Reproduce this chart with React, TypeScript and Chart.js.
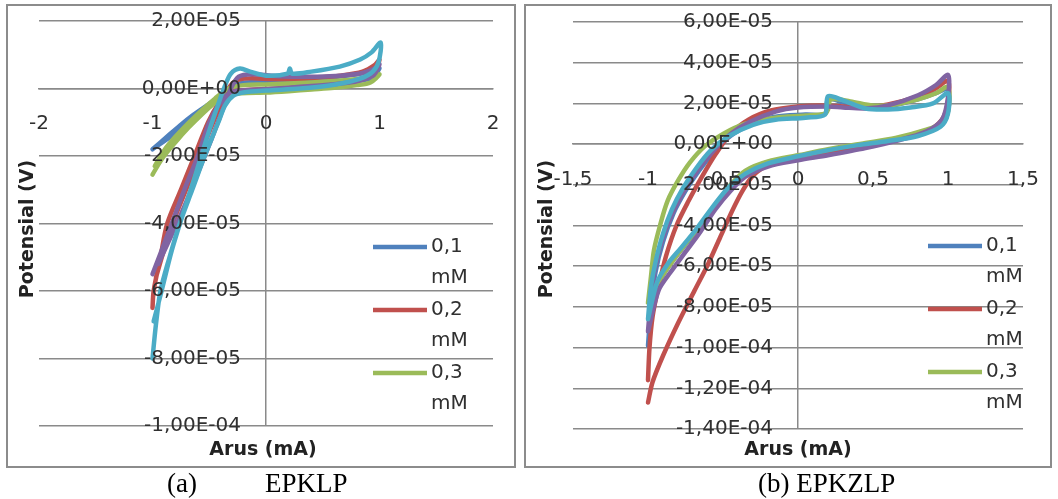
import React, { useEffect, useRef } from 'react';
import { Chart, registerables } from 'chart.js';

Chart.register(...registerables);

// ---------- shared ----------
const SERIES_LABELS = ['0,1 mM', '0,2 mM', '0,3 mM', '0,4 mM', '0,5 mM'];
const SERIES_COLORS = ['#4F81BD', '#C0504D', '#9BBB59', '#8064A2', '#4BACC6'];
const LEGEND_COUNT = 3;

// ---------- panel (a) EPKLP ----------
const A_X_TICKS = [-2, -1, 0, 1, 2];
const A_Y_TICKS = [2e-5, 0, -2e-5, -4e-5, -6e-5, -8e-5, -1e-4];

const A1_X = [-1.0, -0.88, -0.76, -0.64, -0.52, -0.42, -0.32, -0.18, 0.0, 0.2, 0.4, 0.6, 0.8, 0.93, 1.0, 0.95, 0.8, 0.6, 0.4, 0.2, 0.0, -0.18, -0.3, -0.4, -0.55, -0.7, -0.85, -0.98];
const A1_Y = [-1.8e-5, -1.45e-5, -1.1e-5, -0.78e-5, -0.5e-5, -0.28e-5, -0.12e-5, -0.06e-5, -0.04e-5, 0.0, 0.05e-5, 0.12e-5, 0.22e-5, 0.32e-5, 0.6e-5, 0.52e-5, 0.42e-5, 0.34e-5, 0.28e-5, 0.24e-5, 0.2e-5, 0.18e-5, 0.08e-5, -0.2e-5, -0.65e-5, -1.05e-5, -1.45e-5, -1.75e-5];

const A2_X = [-1.0, -0.99, -0.93, -0.87, -0.75, -0.63, -0.51, -0.42, -0.34, -0.25, -0.1, 0.1, 0.3, 0.5, 0.7, 0.85, 0.95, 1.0, 0.96, 0.85, 0.65, 0.45, 0.25, 0.05, -0.15, -0.27, -0.35, -0.44, -0.55, -0.68, -0.8, -0.9, -0.97];
const A2_Y = [-6.5e-5, -6.0e-5, -5.0e-5, -4.0e-5, -3.0e-5, -2.0e-5, -1.0e-5, -0.45e-5, -0.15e-5, -0.06e-5, -0.03e-5, 0.0, 0.05e-5, 0.1e-5, 0.18e-5, 0.3e-5, 0.45e-5, 0.85e-5, 0.7e-5, 0.5e-5, 0.38e-5, 0.32e-5, 0.28e-5, 0.28e-5, 0.3e-5, 0.22e-5, -0.1e-5, -0.8e-5, -1.7e-5, -2.8e-5, -3.8e-5, -4.8e-5, -5.6e-5];

const A3_X = [-1.0, -0.92, -0.8, -0.68, -0.56, -0.45, -0.36, -0.22, 0.0, 0.2, 0.4, 0.6, 0.8, 0.92, 1.0, 0.95, 0.8, 0.6, 0.4, 0.2, 0.0, -0.2, -0.33, -0.45, -0.6, -0.75, -0.88, -0.98];
const A3_Y = [-2.55e-5, -2.1e-5, -1.6e-5, -1.15e-5, -0.75e-5, -0.42e-5, -0.22e-5, -0.14e-5, -0.12e-5, -0.08e-5, -0.03e-5, 0.02e-5, 0.1e-5, 0.18e-5, 0.42e-5, 0.36e-5, 0.28e-5, 0.22e-5, 0.18e-5, 0.15e-5, 0.12e-5, 0.1e-5, 0.0, -0.3e-5, -0.75e-5, -1.25e-5, -1.75e-5, -2.3e-5];

const A4_X = [-1.0, -0.92, -0.83, -0.72, -0.6, -0.5, -0.41, -0.33, -0.25, -0.1, 0.1, 0.3, 0.5, 0.7, 0.85, 0.95, 1.0, 0.96, 0.85, 0.65, 0.45, 0.25, 0.05, -0.12, -0.24, -0.31, -0.39, -0.48, -0.6, -0.72, -0.84, -0.95];
const A4_Y = [-5.5e-5, -4.8e-5, -4.0e-5, -3.0e-5, -2.0e-5, -1.0e-5, -0.45e-5, -0.15e-5, -0.07e-5, -0.04e-5, 0.0, 0.05e-5, 0.1e-5, 0.16e-5, 0.26e-5, 0.4e-5, 0.72e-5, 0.6e-5, 0.46e-5, 0.38e-5, 0.35e-5, 0.35e-5, 0.38e-5, 0.42e-5, 0.35e-5, 0.0, -0.7e-5, -1.5e-5, -2.5e-5, -3.5e-5, -4.4e-5, -5.2e-5];

const A5_X = [-1.0, -0.97, -0.93, -0.85, -0.76, -0.65, -0.54, -0.42, -0.36, -0.29, -0.2, 0.0, 0.3, 0.56, 0.78, 0.92, 0.99, 1.01, 0.93, 0.83, 0.65, 0.4, 0.23, 0.21, 0.19, 0.0, -0.14, -0.23, -0.31, -0.36, -0.41, -0.5, -0.61, -0.72, -0.83, -0.92, -0.99];
const A5_Y = [-8.0e-5, -7.0e-5, -6.0e-5, -5.0e-5, -4.0e-5, -3.0e-5, -2.0e-5, -1.0e-5, -0.5e-5, -0.22e-5, -0.12e-5, -0.06e-5, 0.0, 0.09e-5, 0.24e-5, 0.44e-5, 0.77e-5, 1.36e-5, 1.07e-5, 0.86e-5, 0.65e-5, 0.5e-5, 0.44e-5, 0.59e-5, 0.44e-5, 0.38e-5, 0.5e-5, 0.59e-5, 0.44e-5, 0.09e-5, -0.36e-5, -1.24e-5, -2.43e-5, -3.6e-5, -4.8e-5, -6.0e-5, -6.9e-5];

// ---------- panel (b) EPKZLP ----------
const B_X_TICKS = [-1.5, -1, -0.5, 0, 0.5, 1, 1.5];
const B_Y_TICKS = [6e-5, 4e-5, 2e-5, 0, -2e-5, -4e-5, -6e-5, -8e-5, -1e-4, -1.2e-4, -1.4e-4];

const B1_X = [-1.0, -0.98, -0.95, -0.9, -0.83, -0.75, -0.66, -0.56, -0.45, -0.3, -0.15, 0.05, 0.18, 0.2, 0.3, 0.45, 0.6, 0.8, 0.92, 1.0, 1.0, 0.95, 0.8, 0.6, 0.4, 0.2, 0.0, -0.2, -0.35, -0.46, -0.57, -0.68, -0.79, -0.88, -0.95, -1.0];
const B1_Y = [-9.9e-5, -8.0e-5, -6.3e-5, -4.8e-5, -3.4e-5, -2.3e-5, -1.3e-5, -0.4e-5, 0.4e-5, 1.0e-5, 1.35e-5, 1.45e-5, 1.5e-5, 2.2e-5, 2.05e-5, 1.8e-5, 1.85e-5, 2.2e-5, 2.5e-5, 2.7e-5, 1.6e-5, 0.9e-5, 0.45e-5, 0.15e-5, -0.05e-5, -0.3e-5, -0.6e-5, -0.95e-5, -1.5e-5, -2.2e-5, -3.2e-5, -4.3e-5, -5.3e-5, -6.2e-5, -7.2e-5, -9.9e-5];

const B2_X = [-1.0, -0.99, -0.97, -0.93, -0.88, -0.81, -0.73, -0.64, -0.55, -0.45, -0.33, -0.18, 0.0, 0.15, 0.3, 0.45, 0.6, 0.8, 0.92, 1.0, 1.0, 0.96, 0.85, 0.65, 0.45, 0.2, 0.0, -0.2, -0.3, -0.37, -0.44, -0.52, -0.6, -0.69, -0.8, -0.9, -0.97, -1.0];
const B2_Y = [-11.6e-5, -10.0e-5, -8.5e-5, -7.0e-5, -5.5e-5, -4.0e-5, -2.8e-5, -1.6e-5, -0.5e-5, 0.5e-5, 1.2e-5, 1.65e-5, 1.85e-5, 1.9e-5, 1.85e-5, 1.8e-5, 1.95e-5, 2.35e-5, 2.75e-5, 3.1e-5, 2.1e-5, 1.2e-5, 0.6e-5, 0.2e-5, -0.1e-5, -0.45e-5, -0.7e-5, -1.05e-5, -1.55e-5, -2.3e-5, -3.3e-5, -4.6e-5, -5.9e-5, -7.2e-5, -8.8e-5, -10.4e-5, -11.7e-5, -12.7e-5];

const B3_X = [-1.0, -0.98, -0.96, -0.92, -0.87, -0.8, -0.72, -0.62, -0.5, -0.35, -0.15, 0.05, 0.18, 0.2, 0.22, 0.35, 0.5, 0.65, 0.8, 0.92, 1.0, 1.0, 0.95, 0.85, 0.65, 0.45, 0.2, 0.0, -0.2, -0.35, -0.45, -0.55, -0.65, -0.76, -0.86, -0.95, -1.0];
const B3_Y = [-7.8e-5, -6.5e-5, -5.2e-5, -4.0e-5, -2.8e-5, -1.8e-5, -0.9e-5, -0.1e-5, 0.5e-5, 1.0e-5, 1.3e-5, 1.4e-5, 1.5e-5, 1.7e-5, 2.2e-5, 2.1e-5, 1.9e-5, 1.95e-5, 2.2e-5, 2.5e-5, 2.8e-5, 1.6e-5, 1.0e-5, 0.7e-5, 0.3e-5, 0.05e-5, -0.25e-5, -0.55e-5, -0.85e-5, -1.3e-5, -2.0e-5, -3.0e-5, -4.0e-5, -5.0e-5, -6.0e-5, -7.0e-5, -7.8e-5];

const B4_X = [-1.0, -0.98, -0.95, -0.9, -0.83, -0.75, -0.66, -0.56, -0.45, -0.32, -0.15, 0.0, 0.2, 0.3, 0.45, 0.6, 0.8, 0.92, 1.0, 1.0, 0.96, 0.85, 0.65, 0.45, 0.2, 0.0, -0.2, -0.35, -0.45, -0.55, -0.65, -0.75, -0.85, -0.93, -1.0];
const B4_Y = [-9.2e-5, -7.5e-5, -6.0e-5, -4.6e-5, -3.3e-5, -2.2e-5, -1.2e-5, -0.3e-5, 0.5e-5, 1.1e-5, 1.6e-5, 1.8e-5, 1.85e-5, 1.8e-5, 1.75e-5, 1.9e-5, 2.4e-5, 2.9e-5, 3.4e-5, 2.3e-5, 1.2e-5, 0.6e-5, 0.15e-5, -0.2e-5, -0.55e-5, -0.8e-5, -1.1e-5, -1.6e-5, -2.3e-5, -3.2e-5, -4.3e-5, -5.3e-5, -6.3e-5, -7.2e-5, -9.2e-5];

const B5_X = [-1.0, -0.98, -0.95, -0.9, -0.84, -0.77, -0.68, -0.58, -0.46, -0.3, -0.15, 0.05, 0.18, 0.2, 0.3, 0.45, 0.6, 0.75, 0.9, 1.0, 1.0, 0.95, 0.8, 0.6, 0.4, 0.2, 0.0, -0.2, -0.35, -0.46, -0.56, -0.67, -0.78, -0.87, -0.94, -1.0];
const B5_Y = [-8.6e-5, -7.0e-5, -5.8e-5, -4.4e-5, -3.2e-5, -2.2e-5, -1.2e-5, -0.3e-5, 0.4e-5, 0.95e-5, 1.2e-5, 1.3e-5, 1.45e-5, 2.35e-5, 2.15e-5, 1.75e-5, 1.7e-5, 1.8e-5, 2.0e-5, 2.5e-5, 1.5e-5, 0.85e-5, 0.4e-5, 0.15e-5, -0.05e-5, -0.3e-5, -0.6e-5, -0.95e-5, -1.45e-5, -2.1e-5, -3.0e-5, -4.1e-5, -5.1e-5, -5.9e-5, -6.8e-5, -8.6e-5];

// ---------- styling ----------
const FONT = "'DejaVu Sans', 'Noto Sans', sans-serif";
const TEXT_COLOR = '#303030';
const GRID_COLOR = '#8a8a8a';

function fmtSci(v: number): string {
  if (Math.abs(v) < 1e-15) return '0,00E+00';
  let e = Math.floor(Math.log10(Math.abs(v)) + 1e-9);
  let m = v / Math.pow(10, e);
  if (Math.abs(m) >= 9.995) { m /= 10; e += 1; }
  const es = (e < 0 ? '-' : '+') + String(Math.abs(e)).padStart(2, '0');
  return m.toFixed(2).replace('.', ',') + 'E' + es;
}

type Spec = {
  key: string;
  xs: number[][];
  ys: number[][];
  xTicks: number[];
  yTicks: number[];
  padding: { left: number; right: number; top: number; bottom: number };
  yLabelAnchor: number; // x value where the y tick labels end (labels sit left of the axis)
  legendX: number;
  legendY: number;
  xTitle: [number, number];
  yTitle: [number, number];
};

const SPEC_A: Spec = {
  key: 'a',
  xs: [A1_X, A2_X, A3_X, A4_X, A5_X],
  ys: [A1_Y, A2_Y, A3_Y, A4_Y, A5_Y],
  xTicks: A_X_TICKS,
  yTicks: A_Y_TICKS,
  padding: { left: 39, right: 27, top: 21, bottom: 49 },
  yLabelAnchor: -0.22,
  legendX: 373,
  legendY: 247,
  xTitle: [263, 450],
  yTitle: [28, 229],
};

const SPEC_B: Spec = {
  key: 'b',
  xs: [B1_X, B2_X, B3_X, B4_X, B5_X],
  ys: [B1_Y, B2_Y, B3_Y, B4_Y, B5_Y],
  xTicks: B_X_TICKS,
  yTicks: B_Y_TICKS,
  padding: { left: 53, right: 35, top: 22, bottom: 46 },
  yLabelAnchor: -0.167,
  legendX: 408,
  legendY: 246,
  xTitle: [278, 450],
  yTitle: [27, 229],
};

function decorPlugin(spec: Spec) {
  return {
    id: 'decor_' + spec.key,
    afterDraw(chart: any) {
      const ctx = chart.ctx;
      ctx.save();
      // legend (only the first entries fit, as in the original)
      for (let i = 0; i < LEGEND_COUNT; i++) {
        const y = spec.legendY + i * 63;
        ctx.strokeStyle = SERIES_COLORS[i];
        ctx.lineWidth = 4.5;
        ctx.lineCap = 'butt';
        ctx.beginPath();
        ctx.moveTo(spec.legendX, y);
        ctx.lineTo(spec.legendX + 54, y);
        ctx.stroke();
        const parts = SERIES_LABELS[i].split(' ');
        ctx.fillStyle = TEXT_COLOR;
        ctx.font = `20px ${FONT}`;
        ctx.textAlign = 'left';
        ctx.textBaseline = 'middle';
        ctx.fillText(parts[0], spec.legendX + 58, y);
        ctx.fillText(parts[1], spec.legendX + 58, y + 31);
      }
      // axis titles
      ctx.fillStyle = '#222222';
      ctx.font = `bold 19px ${FONT}`;
      ctx.textAlign = 'center';
      ctx.textBaseline = 'middle';
      ctx.fillText('Arus (mA)', spec.xTitle[0], spec.xTitle[1]);
      ctx.translate(spec.yTitle[0], spec.yTitle[1]);
      ctx.rotate(-Math.PI / 2);
      ctx.fillText('Potensial (V)', 0, 0);
      ctx.restore();
    },
  };
}

// keep the plot area exactly where the layout padding puts it
const noScalePadding = (scale: any) => {
  scale.paddingLeft = 0;
  scale.paddingRight = 0;
  scale.paddingTop = 0;
  scale.paddingBottom = 0;
};

function makeConfig(spec: Spec): any {
  const datasets = spec.xs.map((xs, i) => {
    const ys = spec.ys[i];
    const n = Math.min(xs.length, ys.length);
    const pts = [] as { x: number; y: number }[];
    for (let j = 0; j < n; j++) pts.push({ x: xs[j], y: ys[j] });
    return {
      label: SERIES_LABELS[i],
      data: pts,
      showLine: true,
      borderColor: SERIES_COLORS[i],
      backgroundColor: SERIES_COLORS[i],
      borderWidth: 4.5,
      pointRadius: 0,
      pointHoverRadius: 0,
      tension: 0.3,
      fill: false,
      borderCapStyle: 'round',
      borderJoinStyle: 'round',
      order: spec.xs.length - i,
    };
  });
  const xMin = spec.xTicks[0];
  const xMax = spec.xTicks[spec.xTicks.length - 1];
  const yMax = spec.yTicks[0];
  const yMin = spec.yTicks[spec.yTicks.length - 1];
  return {
    type: 'scatter',
    data: { datasets },
    options: {
      animation: false,
      responsive: false,
      maintainAspectRatio: false,
      devicePixelRatio: 1,
      events: [],
      layout: { padding: spec.padding },
      plugins: {
        legend: { display: false },
        tooltip: { enabled: false },
        title: { display: false },
      },
      scales: {
        x: {
          type: 'linear',
          min: xMin,
          max: xMax,
          position: { y: 0 },
          afterBuildTicks: (scale: any) => {
            scale.ticks = spec.xTicks.map((v) => ({ value: v }));
          },
          afterFit: noScalePadding,
          ticks: {
            autoSkip: false,
            maxRotation: 0,
            padding: 23.5,
            color: TEXT_COLOR,
            font: { family: FONT, size: 20 },
            z: 1,
            callback: (v: any) => String(v).replace('.', ','),
          },
          // only the zero line is drawn: it is the vertical axis line
          grid: {
            display: true,
            drawTicks: false,
            lineWidth: 1.5,
            color: (c: any) => (c.tick && c.tick.value === 0 ? GRID_COLOR : 'rgba(0,0,0,0)'),
          },
          border: { display: true, color: GRID_COLOR, width: 1.5 },
        },
        y: {
          type: 'linear',
          min: yMin,
          max: yMax,
          position: { x: spec.yLabelAnchor },
          afterBuildTicks: (scale: any) => {
            scale.ticks = spec.yTicks.map((v) => ({ value: v }));
          },
          afterFit: noScalePadding,
          ticks: {
            autoSkip: false,
            padding: 0,
            color: TEXT_COLOR,
            font: { family: FONT, size: 20 },
            z: 1,
            callback: (v: any) => fmtSci(Number(v)),
          },
          grid: { display: true, color: GRID_COLOR, lineWidth: 1.5, drawTicks: false },
          border: { display: false },
        },
      },
    },
    plugins: [decorPlugin(spec)],
  };
}

function ChartPanel({ spec, left, width, height }: { spec: Spec; left: number; width: number; height: number }) {
  const ref = useRef<HTMLCanvasElement | null>(null);
  useEffect(() => {
    if (!ref.current) return;
    const chart = new Chart(ref.current, makeConfig(spec));
    return () => chart.destroy();
  }, [spec]);
  return (
    <canvas
      ref={ref}
      width={width}
      height={height}
      style={{ position: 'absolute', left, top: 0, width, height }}
    />
  );
}

const captionStyle: React.CSSProperties = {
  position: 'absolute',
  top: 470,
  fontFamily: "'Liberation Serif', 'DejaVu Serif', serif",
  fontSize: 27,
  lineHeight: '27px',
  color: '#000',
  whiteSpace: 'nowrap',
};

export default function App() {
  return (
    <div style={{ position: 'absolute', left: 0, top: 0, width: 1058, height: 499, background: '#fff', overflow: 'hidden' }}>
      <div style={{ position: 'absolute', left: 6, top: 4, width: 510, height: 464, border: '2px solid #8c8c8c', boxSizing: 'border-box' }} />
      <div style={{ position: 'absolute', left: 524, top: 4, width: 528, height: 464, border: '2px solid #8c8c8c', boxSizing: 'border-box' }} />
      <ChartPanel spec={SPEC_A} left={0} width={520} height={475} />
      <ChartPanel spec={SPEC_B} left={520} width={538} height={475} />
      <div style={{ ...captionStyle, left: 167 }}>(a)</div>
      <div style={{ ...captionStyle, left: 265 }}>EPKLP</div>
      <div style={{ ...captionStyle, left: 758 }}>(b) EPKZLP</div>
    </div>
  );
}
